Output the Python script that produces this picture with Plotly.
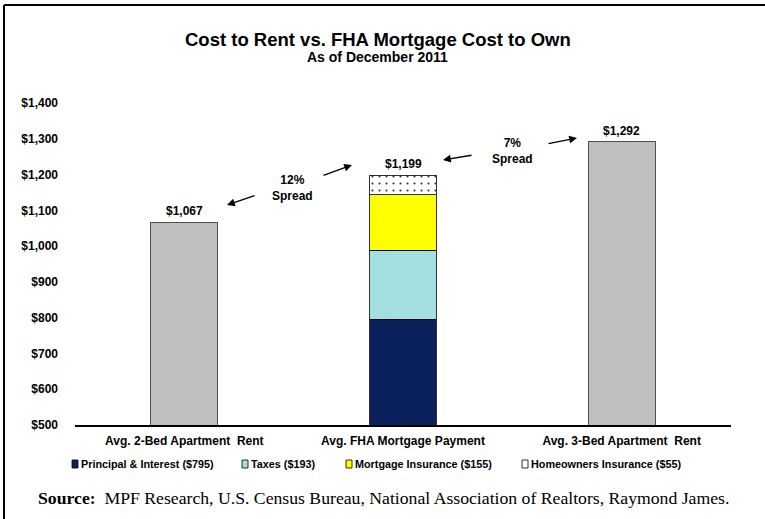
import plotly.graph_objects as go

# ---------------- data ----------------
categories = ["Avg. 2-Bed Apartment\u00a0 Rent", "Avg. FHA Mortgage Payment", "Avg. 3-Bed Apartment\u00a0 Rent"]
rent_categories = [categories[0], categories[2]]
rent_values = [1067, 1292]
fha_components = ["Principal & Interest", "Taxes", "Mortgage Insurance", "Homeowners Insurance"]
fha_values = [795, 193, 155, 55]
fha_total_label = 1199
spread_labels = ["12%", "7%"]
y_ticks = [500, 600, 700, 800, 900, 1000, 1100, 1200, 1300, 1400]

# ---------------- styling ----------------
W, H = 765, 519
ML, MR, MT, MB = 75, 34, 103, 94
PW, PH = W - ML - MR, H - MT - MB
SANS = "Liberation Sans, Arial, sans-serif"
SERIF = "Liberation Serif, Times New Roman, serif"
comp_colors = ["#0A215E", "#A4DFDF", "#FFFF00", "#FFFFFF"]


def px(x):
    return (x - ML) / PW


def py(y):
    return (H - MB - y) / PH


fig = go.Figure()
fig.add_trace(go.Bar(
    x=rent_categories, y=rent_values,
    marker=dict(color="#C0C0C0", line=dict(color="#505050", width=1)),
    showlegend=False, hoverinfo="x+y",
))
for name, val, col in zip(fha_components, fha_values, comp_colors):
    marker = dict(color=col, line=dict(color="#000000", width=0.8))
    if name == "Homeowners Insurance":
        marker["pattern"] = dict(shape=".", fgcolor="#333333", bgcolor="#FFFFFF",
                                 size=7, solidity=0.07, fillmode="replace")
    fig.add_trace(go.Bar(
        x=[categories[1]], y=[val], name=f"{name} (${val})",
        marker=marker, showlegend=False,
    ))

annotations = []


def note(x, y, text, size, family=SANS, xanchor="center"):
    annotations.append(dict(x=px(x), y=py(y), xref="paper", yref="paper",
                            xanchor=xanchor, yanchor="middle", text=text, showarrow=False,
                            font=dict(family=family, size=size, color="#000")))


# value labels above bars
bar_labels = [(categories[0], rent_values[0]), (categories[1], fha_total_label), (categories[2], rent_values[1])]
for cat, v in bar_labels:
    annotations.append(dict(x=cat, y=v, xref="x", yref="y", text=f"<b>${v:,}</b>",
                            showarrow=False, yanchor="bottom", yshift=2,
                            font=dict(family=SANS, size=12, color="#000")))

# spread labels
note(292, 188, f"<b>{spread_labels[0]}<br>Spread</b>", 12)
note(512, 151, f"<b>{spread_labels[1]}<br>Spread</b>", 12)

# arrows (head, tail)
arrows = [((227, 205), (256, 195)), ((352, 165), (322, 176)),
          ((443, 160), (473, 155)), ((577, 138), (547, 144))]
for (hx, hy), (tx, ty) in arrows:
    annotations.append(dict(x=px(hx), y=py(hy), xref="paper", yref="paper",
                            ax=tx - hx, ay=ty - hy, text="", showarrow=True,
                            arrowhead=2, arrowsize=1.2, arrowwidth=1.3, arrowcolor="#000"))

# titles
note(378, 39, "<b>Cost to Rent vs. FHA Mortgage Cost to Own</b>", 18.5)
note(377, 57, "<b>As of December 2011</b>", 14)

# custom legend
shapes = []
leg_x = [72, 242, 346, 522]
for name, val, col, lx in zip(fha_components, fha_values, comp_colors, leg_x):
    shapes.append(dict(type="rect", xref="paper", yref="paper",
                       x0=px(lx), x1=px(lx + 6), y0=py(468), y1=py(460),
                       fillcolor=col, line=dict(color="#000", width=0.8)))
    note(lx + 7, 464, f"<b>{name} (${val})</b>", 10.8, xanchor="left")

# source
note(36, 498, "<b>Source:</b>  MPF Research, U.S. Census Bureau, National Association of Realtors, Raymond James.",
     17.7, family=SERIF, xanchor="left")

# frame lines (top and left)
shapes.append(dict(type="line", xref="paper", yref="paper", x0=px(4), x1=px(766),
                   y0=py(5), y1=py(5), line=dict(color="#000", width=2)))
shapes.append(dict(type="line", xref="paper", yref="paper", x0=px(4), x1=px(4),
                   y0=py(5), y1=py(520), line=dict(color="#000", width=2)))

fig.update_layout(
    width=W, height=H,
    margin=dict(l=ML, r=MR, t=MT, b=MB),
    paper_bgcolor="white", plot_bgcolor="white",
    barmode="stack", bargap=0.694,
    showlegend=False,
    annotations=annotations, shapes=shapes,
    xaxis=dict(categoryorder="array", categoryarray=categories,
               showline=True, linecolor="#000", linewidth=2, showgrid=False,
               ticks="", tickfont=dict(family=SANS, size=12, color="#000", weight="bold"),
               ticklabelstandoff=4),
    yaxis=dict(range=[500, 1400], tickvals=y_ticks,
               ticktext=[f"${v:,}" for v in y_ticks],
               showline=False, showgrid=False, zeroline=False, ticks="",
               tickfont=dict(family=SANS, size=12, color="#000", weight="bold"),
               ticklabelstandoff=16),
)

fig.write_html("out.html", config={"displayModeBar": False},
               post_script="document.body.style.margin='0px';document.body.style.padding='0px';")
